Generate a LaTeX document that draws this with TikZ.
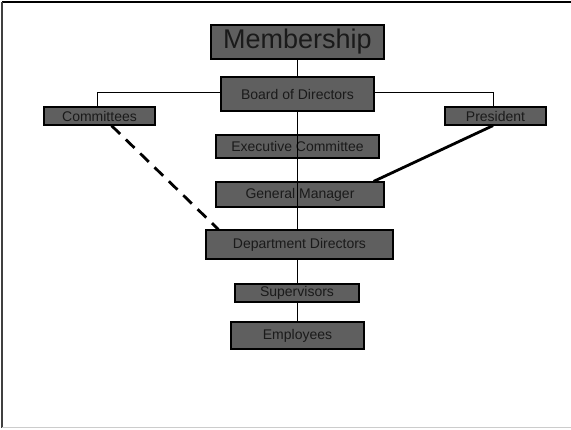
\documentclass[tikz,border=0pt]{standalone}
\usepackage{fontspec}
\setmainfont{Liberation Sans}
\usetikzlibrary{calc}
\definecolor{boxfill}{HTML}{5F5F5F}
\definecolor{boxtext}{HTML}{1A1A1A}
\tikzset{
  orgbox/.style={draw=black, line width=1.2pt, fill=boxfill, text=boxtext, inner sep=0pt, font=\fontsize{14}{16}\selectfont},
  thinline/.style={draw=black, line width=0.9pt},
  thickline/.style={draw=black, line width=2.8pt},
}
\begin{document}
\begin{tikzpicture}[x=1pt,y=-1pt]
\useasboundingbox (0,0) rectangle (571,429);
% page frame
\draw[black, line width=1.5pt] (2,2) -- (571,2);
\draw[black!75, line width=1.5pt] (2,2) -- (2,428);
\draw[black!20, line width=1pt] (2,427.5) -- (571,427.5);
% connector coordinates
\coordinate (c1) at (97,92);
\coordinate (c2) at (493,92);
\node[orgbox, minimum width=173pt, minimum height=34pt, font=\fontsize{27}{30}\selectfont] (mem) at (297.5,42) {Membership};
\node[orgbox, minimum width=111pt, minimum height=18pt] (com) at (99.5,116) {Committees};
\node[orgbox, minimum width=101pt, minimum height=18pt] (pres) at (495.5,116) {President};
\draw[thinline] (c1 |- com.north) -- (c1) -- (c2) -- (c2 |- pres.north);
\node[orgbox, minimum width=153pt, minimum height=34pt] (bod) at (297.5,94) {Board of Directors};
\node[orgbox, minimum width=163pt, minimum height=23pt] (exec) at (297.5,146.5) {Executive Committee};
\node[orgbox, minimum width=168pt, minimum height=25pt] (gm) at (300,194.5) {General Manager};
\node[orgbox, minimum width=187pt, minimum height=29pt] (dd) at (299.5,244.5) {Department Directors};
\node[orgbox, minimum width=124pt, minimum height=18pt] (sup) at (297,293) {Supervisors};
\node[orgbox, minimum width=133pt, minimum height=27pt] (emp) at (297.5,335.5) {Employees};
% vertical chain
\coordinate (vx) at (297,0);
\draw[thinline] (vx |- mem.south) -- (vx |- bod.north);
\draw[thinline] (vx |- bod.south) -- (vx |- dd.north);
\draw[thinline] (vx |- dd.south) -- (vx |- sup.north);
\draw[thinline] (vx |- sup.south) -- (vx |- emp.north);
% thick connectors
\draw[thickline, dash pattern=on 12pt off 8pt] ($(com.south)+(12,0)$) -- ($(dd.north west)+(13,0)$);
\draw[thickline] ($(pres.south)+(-2.5,0)$) -- ($(gm.north east)+(-11,0)$);
\end{tikzpicture}
\end{document}
